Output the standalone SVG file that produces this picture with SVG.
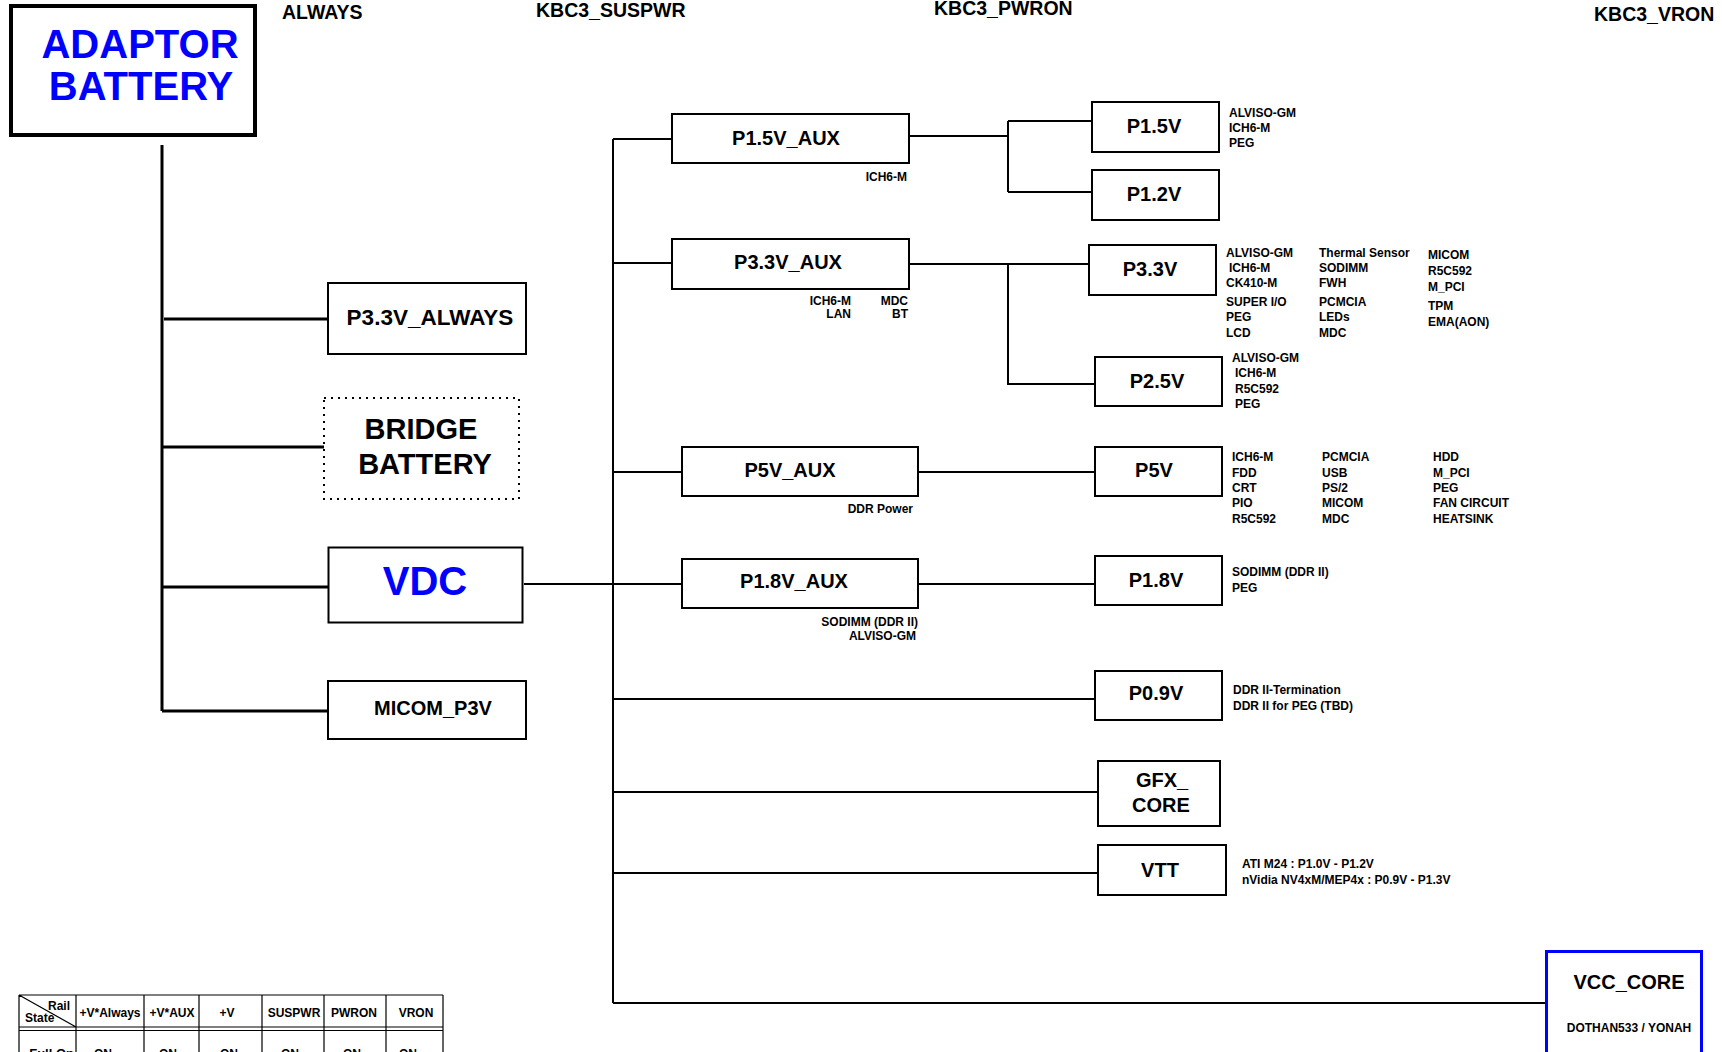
<svg xmlns="http://www.w3.org/2000/svg" width="1722" height="1052" viewBox="0 0 1722 1052">
<style>
text { font-family: "Liberation Sans", Arial, sans-serif; font-weight: bold; fill: #000; }
.box { fill: #fff; stroke: #000; stroke-width: 2; }
.thick { fill: #fff; stroke: #000; stroke-width: 4; }
.dot { fill: #fff; stroke: #000; stroke-width: 2; stroke-dasharray: 2 5; }
.bluebox { fill: #fff; stroke: #0000ff; stroke-width: 3; }
.blue { fill: #0000ff; }
.c { text-anchor: middle; }
.t20 { font-size: 20px; text-anchor: middle; }
.lbl { font-size: 12px; }
.lblr { font-size: 12px; text-anchor: end; }
.hdr { font-size: 19.5px; }
.wire { stroke: #000; stroke-width: 2; fill: none; }
.wire3 { stroke: #000; stroke-width: 3; fill: none; }
.tbl { stroke: #000; stroke-width: 1.2; fill: none; }
.tt { font-size: 12px; text-anchor: middle; }
</style>
<rect x="0" y="0" width="1722" height="1052" fill="#fff"/>

<g id="headers">
  <text class="hdr" x="282" y="19">ALWAYS</text>
  <text class="hdr" x="536" y="17">KBC3_SUSPWR</text>
  <text class="hdr" x="934" y="15">KBC3_PWRON</text>
  <text class="hdr" x="1594" y="21">KBC3_VRON</text>
</g>

<g id="connectors">
  <path class="wire3" d="M162,145 V711 M164,319 H328 M162,447 H324 M162,587 H328 M162,711 H328"/>
  <path class="wire" d="M524,584 H613 M613,139 V1003"/>
  <path class="wire" d="M613,139 H672 M909,136 H1008 M1008,121 V192 M1008,121 H1092 M1008,192 H1092"/>
  <path class="wire" d="M613,263 H672 M909,264 H1089 M1008,264 V384 H1095"/>
  <path class="wire" d="M613,472 H682 M918,472 H1095"/>
  <path class="wire" d="M613,584 H682 M918,584 H1095"/>
  <path class="wire" d="M613,699 H1095 M613,792 H1098 M613,873 H1098 M613,1003 H1546"/>
</g>

<g id="adaptor-battery">
  <rect class="thick" x="11" y="6" width="244" height="129"/>
  <text class="c blue" x="140" y="58" font-size="40">ADAPTOR</text>
  <text class="c blue" x="141" y="100" font-size="40">BATTERY</text>
</g>

<g id="p33v-always">
  <rect class="box" x="328" y="283" width="198" height="71"/>
  <text class="c" x="430" y="325" font-size="22.5">P3.3V_ALWAYS</text>
</g>

<g id="bridge-battery">
  <rect class="dot" x="324" y="398" width="195" height="101"/>
  <text class="c" x="421" y="439" font-size="29">BRIDGE</text>
  <text class="c" x="425" y="474" font-size="29">BATTERY</text>
</g>

<g id="vdc">
  <rect class="box" x="328.5" y="547.5" width="194" height="75" stroke-width="3.5"/>
  <text class="c blue" x="425" y="595" font-size="40">VDC</text>
</g>

<g id="micom-p3v">
  <rect class="box" x="328" y="681" width="198" height="58"/>
  <text class="t20" x="433" y="715">MICOM_P3V</text>
</g>

<g id="p15v-aux">
  <rect class="box" x="672" y="114" width="237" height="49"/>
  <text class="t20" x="786" y="145">P1.5V_AUX</text>
  <text class="lblr" x="907" y="181">ICH6-M</text>
</g>

<g id="p33v-aux">
  <rect class="box" x="672" y="239" width="237" height="50"/>
  <text class="t20" x="788" y="269">P3.3V_AUX</text>
  <text class="lblr" x="851" y="305">ICH6-M</text>
  <text class="lblr" x="851" y="318">LAN</text>
  <text class="lblr" x="908" y="305">MDC</text>
  <text class="lblr" x="908" y="318">BT</text>
</g>

<g id="p5v-aux">
  <rect class="box" x="682" y="447" width="236" height="49"/>
  <text class="t20" x="790" y="477">P5V_AUX</text>
  <text class="lblr" x="913" y="513">DDR Power</text>
</g>

<g id="p18v-aux">
  <rect class="box" x="682" y="559" width="236" height="49"/>
  <text class="t20" x="794" y="588">P1.8V_AUX</text>
  <text class="lblr" x="918" y="626">SODIMM (DDR II)</text>
  <text class="lblr" x="916" y="640">ALVISO-GM</text>
</g>

<g id="p15v">
  <rect class="box" x="1092" y="102" width="127" height="50"/>
  <text class="t20" x="1154" y="133">P1.5V</text>
  <text class="lbl" x="1229" y="117">ALVISO-GM</text>
  <text class="lbl" x="1229" y="132">ICH6-M</text>
  <text class="lbl" x="1229" y="147">PEG</text>
</g>

<g id="p12v">
  <rect class="box" x="1092" y="170" width="127" height="50"/>
  <text class="t20" x="1154" y="201">P1.2V</text>
</g>

<g id="p33v">
  <rect class="box" x="1089" y="245" width="127" height="50"/>
  <text class="t20" x="1150" y="276">P3.3V</text>
  <text class="lbl" x="1226" y="257">ALVISO-GM</text>
  <text class="lbl" x="1229" y="272">ICH6-M</text>
  <text class="lbl" x="1226" y="287">CK410-M</text>
  <text class="lbl" x="1226" y="306">SUPER I/O</text>
  <text class="lbl" x="1226" y="321">PEG</text>
  <text class="lbl" x="1226" y="337">LCD</text>
  <text class="lbl" x="1319" y="257">Thermal Sensor</text>
  <text class="lbl" x="1319" y="272">SODIMM</text>
  <text class="lbl" x="1319" y="287">FWH</text>
  <text class="lbl" x="1319" y="306">PCMCIA</text>
  <text class="lbl" x="1319" y="321">LEDs</text>
  <text class="lbl" x="1319" y="337">MDC</text>
  <text class="lbl" x="1428" y="259">MICOM</text>
  <text class="lbl" x="1428" y="275">R5C592</text>
  <text class="lbl" x="1428" y="291">M_PCI</text>
  <text class="lbl" x="1428" y="310">TPM</text>
  <text class="lbl" x="1428" y="326">EMA(AON)</text>
</g>

<g id="p25v">
  <rect class="box" x="1095" y="357" width="127" height="49"/>
  <text class="t20" x="1157" y="388">P2.5V</text>
  <text class="lbl" x="1232" y="362">ALVISO-GM</text>
  <text class="lbl" x="1235" y="377">ICH6-M</text>
  <text class="lbl" x="1235" y="393">R5C592</text>
  <text class="lbl" x="1235" y="408">PEG</text>
</g>

<g id="p5v">
  <rect class="box" x="1095" y="447" width="127" height="49"/>
  <text class="t20" x="1154" y="477">P5V</text>
  <text class="lbl" x="1232" y="461">ICH6-M</text>
  <text class="lbl" x="1232" y="477">FDD</text>
  <text class="lbl" x="1232" y="492">CRT</text>
  <text class="lbl" x="1232" y="507">PIO</text>
  <text class="lbl" x="1232" y="523">R5C592</text>
  <text class="lbl" x="1322" y="461">PCMCIA</text>
  <text class="lbl" x="1322" y="477">USB</text>
  <text class="lbl" x="1322" y="492">PS/2</text>
  <text class="lbl" x="1322" y="507">MICOM</text>
  <text class="lbl" x="1322" y="523">MDC</text>
  <text class="lbl" x="1433" y="461">HDD</text>
  <text class="lbl" x="1433" y="477">M_PCI</text>
  <text class="lbl" x="1433" y="492">PEG</text>
  <text class="lbl" x="1433" y="507">FAN CIRCUIT</text>
  <text class="lbl" x="1433" y="523">HEATSINK</text>
</g>

<g id="p18v">
  <rect class="box" x="1095" y="556" width="127" height="49"/>
  <text class="t20" x="1156" y="587">P1.8V</text>
  <text class="lbl" x="1232" y="576">SODIMM (DDR II)</text>
  <text class="lbl" x="1232" y="592">PEG</text>
</g>

<g id="p09v">
  <rect class="box" x="1095" y="671" width="127" height="49"/>
  <text class="t20" x="1156" y="700">P0.9V</text>
  <text class="lbl" x="1233" y="694">DDR II-Termination</text>
  <text class="lbl" x="1233" y="710">DDR II for PEG (TBD)</text>
</g>

<g id="gfx-core">
  <rect class="box" x="1098" y="761" width="122" height="65"/>
  <text class="t20" x="1162" y="787">GFX_</text>
  <text class="t20" x="1161" y="812">CORE</text>
</g>

<g id="vtt">
  <rect class="box" x="1098" y="845" width="128" height="50"/>
  <text class="t20" x="1160" y="877">VTT</text>
  <text class="lbl" x="1242" y="868">ATI M24 : P1.0V - P1.2V</text>
  <text class="lbl" x="1242" y="884">nVidia NV4xM/MEP4x : P0.9V - P1.3V</text>
</g>

<g id="vcc-core">
  <rect class="bluebox" x="1546.5" y="951.5" width="155" height="110"/>
  <text class="t20" x="1629" y="989">VCC_CORE</text>
  <text class="c" x="1629" y="1032" font-size="12">DOTHAN533 / YONAH</text>
</g>

<g id="rail-state-table">
  <path class="tbl" d="M19,995 H443 M19,1027 H443 M19,1030.5 H443 M19,995 V1052 M76,995 V1052 M144,995 V1052 M199,995 V1052 M262,995 V1052 M324,995 V1052 M386,995 V1052 M443,995 V1052 M19,995 L76,1027"/>
  <text x="70" y="1010" font-size="12" text-anchor="end">Rail</text>
  <text x="25" y="1022" font-size="12">State</text>
  <text class="tt" x="110" y="1017">+V*Always</text>
  <text class="tt" x="172" y="1017">+V*AUX</text>
  <text class="tt" x="227" y="1017">+V</text>
  <text class="tt" x="294" y="1017">SUSPWR</text>
  <text class="tt" x="354" y="1017">PWRON</text>
  <text class="tt" x="416" y="1017">VRON</text>
  <text x="74" y="1058" font-size="13" text-anchor="end">Full On</text>
  <text class="tt" x="103" y="1058">ON</text>
  <text class="tt" x="168" y="1058">ON</text>
  <text class="tt" x="229" y="1058">ON</text>
  <text class="tt" x="290" y="1058">ON</text>
  <text class="tt" x="352" y="1058">ON</text>
  <text class="tt" x="408" y="1058">ON</text>
</g>
</svg>
